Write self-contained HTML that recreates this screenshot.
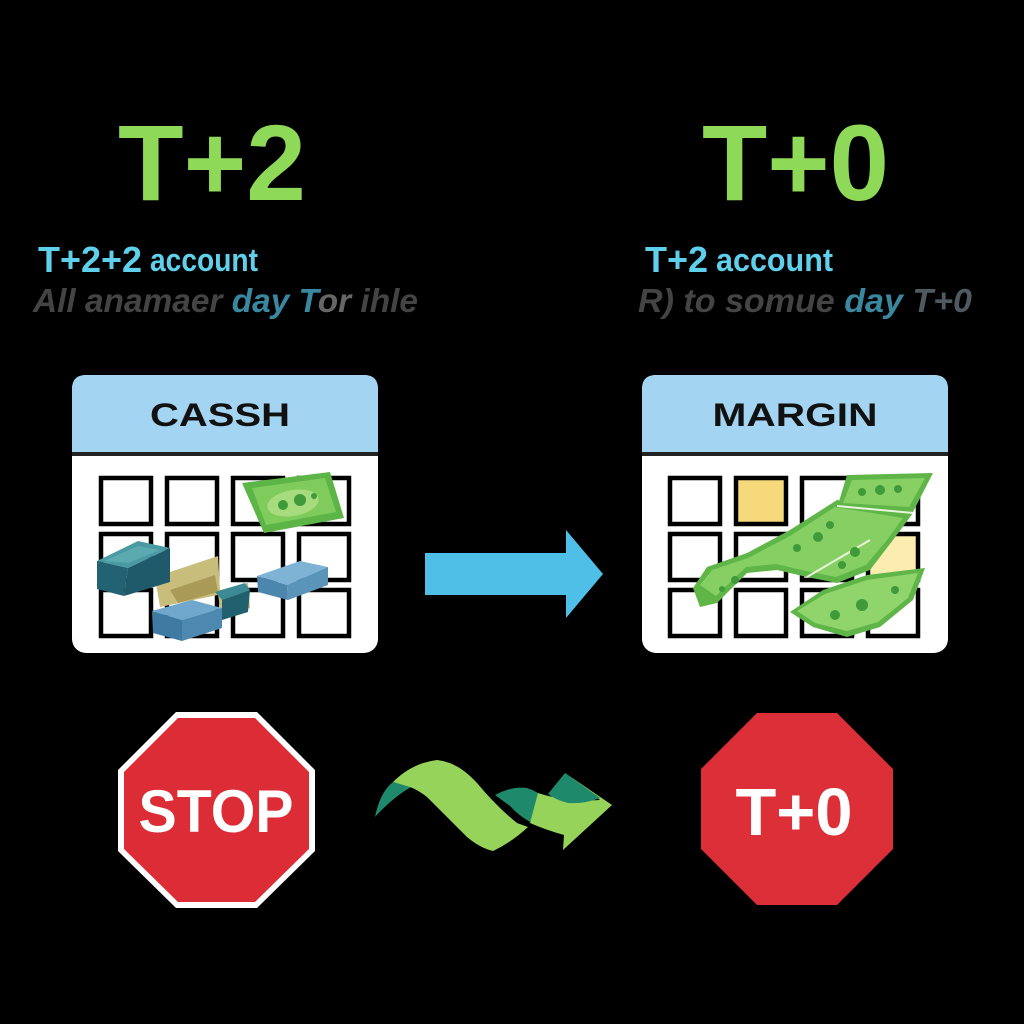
<!DOCTYPE html>
<html>
<head>
<meta charset="utf-8">
<style>
html,body{margin:0;padding:0;background:#000;}
body{width:1024px;height:1024px;overflow:hidden;}
svg{display:block;}
</style>
</head>
<body>
<svg width="1024" height="1024" viewBox="0 0 1024 1024" xmlns="http://www.w3.org/2000/svg">
<rect width="1024" height="1024" fill="#000"/>

<!-- Titles -->
<text x="118" y="200" font-family="Liberation Sans, sans-serif" font-weight="bold" font-size="108" fill="#8ed957" textLength="188" lengthAdjust="spacingAndGlyphs">T+2</text>
<text x="702" y="200" font-family="Liberation Sans, sans-serif" font-weight="bold" font-size="108" fill="#8ed957" textLength="187" lengthAdjust="spacingAndGlyphs">T+0</text>

<!-- Subtitles left -->
<text x="38" y="272" font-family="Liberation Sans, sans-serif" font-weight="bold" font-size="36" fill="#5fd0ec" textLength="104" lengthAdjust="spacingAndGlyphs">T+2+2</text>
<text x="150" y="271" font-family="Liberation Sans, sans-serif" font-weight="bold" font-size="32" fill="#5fd0ec" textLength="108" lengthAdjust="spacingAndGlyphs">account</text>
<text x="33" y="312" font-family="Liberation Sans, sans-serif" font-weight="bold" font-style="italic" font-size="33" fill="#444" textLength="385" lengthAdjust="spacingAndGlyphs">All anamaer <tspan fill="#3a88a0">day T</tspan><tspan fill="#666">or</tspan> ihle</text>

<!-- Subtitles right -->
<text x="645" y="272" font-family="Liberation Sans, sans-serif" font-weight="bold" font-size="36" fill="#5fd0ec" textLength="63" lengthAdjust="spacingAndGlyphs">T+2</text>
<text x="716" y="271" font-family="Liberation Sans, sans-serif" font-weight="bold" font-size="32" fill="#5fd0ec" textLength="117" lengthAdjust="spacingAndGlyphs">account</text>
<text x="638" y="312" font-family="Liberation Sans, sans-serif" font-weight="bold" font-style="italic" font-size="33" fill="#444" textLength="334" lengthAdjust="spacingAndGlyphs">R) to somue <tspan fill="#3a88a0">day</tspan> <tspan fill="#4f5a60">T+0</tspan></text>

<!-- Left calendar -->
<rect x="72" y="375" width="306" height="278" rx="14" fill="#fff"/>
<path d="M72 453 V389 Q72 375 86 375 H364 Q378 375 378 389 V453 Z" fill="#a3d5f3"/>
<rect x="72" y="452" width="306" height="4" fill="#222"/>
<text x="220" y="426" text-anchor="middle" font-family="Liberation Sans, sans-serif" font-weight="bold" font-size="32" fill="#111" textLength="140" lengthAdjust="spacingAndGlyphs">CASSH</text>
<g fill="#fff" stroke="#000" stroke-width="4.5">
<rect x="101" y="478" width="50" height="46"/><rect x="167" y="478" width="50" height="46"/><rect x="233" y="478" width="50" height="46"/><rect x="299" y="478" width="50" height="46"/>
<rect x="101" y="534" width="50" height="46"/><rect x="167" y="534" width="50" height="46"/><rect x="233" y="534" width="50" height="46"/><rect x="299" y="534" width="50" height="46"/>
<rect x="101" y="590" width="50" height="46"/><rect x="167" y="590" width="50" height="46"/><rect x="233" y="590" width="50" height="46"/><rect x="299" y="590" width="50" height="46"/>
</g>
<!-- left money: green bill -->
<polygon points="242,483 330,472 344,518 264,533" fill="#5db548"/>
<polygon points="252,488 325,478 336,512 266,525" fill="#7fcc5c"/>
<ellipse cx="293" cy="503" rx="26" ry="13" fill="#a6dc7e" transform="rotate(-10 293 503)"/>
<circle cx="283" cy="505" r="5" fill="#3f9a3a"/><circle cx="300" cy="500" r="6" fill="#3f9a3a"/><circle cx="314" cy="496" r="3" fill="#3f9a3a"/>
<!-- beige piece -->
<polygon points="155,577 218,556 220,590 248,583 250,608 222,617 218,595 160,607" fill="#c9bd7c"/>
<polygon points="170,590 215,575 218,592 178,603" fill="#a99a58"/>
<!-- teal stack left -->
<polygon points="97,561 138,541 170,548 128,568" fill="#4a9aa4"/>
<polygon points="104,561 138,546 160,550 128,563" fill="#5aaab0"/>
<polygon points="97,561 128,568 124,596 97,589" fill="#236273"/>
<polygon points="128,568 170,548 170,582 124,596" fill="#1e5a6a"/>
<!-- teal small middle -->
<polygon points="215,592 245,583 250,590 222,600" fill="#3c8a96"/>
<polygon points="222,600 250,590 248,612 222,620" fill="#20606f"/>
<!-- blue stack right -->
<polygon points="257,576 300,561 328,567 287,585" fill="#7fb3d6"/>
<polygon points="257,576 287,585 288,600 258,592" fill="#4d86ad"/>
<polygon points="287,585 328,567 328,585 288,600" fill="#5a94b8"/>
<!-- blue stack bottom -->
<polygon points="152,611 192,600 222,608 182,620" fill="#6fa8cc"/>
<polygon points="152,611 182,620 182,641 153,633" fill="#3f7aa3"/>
<polygon points="182,620 222,608 222,628 182,641" fill="#4d88b0"/>

<!-- Blue arrow -->
<polygon points="425,553 566,553 566,530 603,574 566,618 566,595 425,595" fill="#4fbfe8"/>

<!-- Right calendar -->
<rect x="642" y="375" width="306" height="278" rx="14" fill="#fff"/>
<path d="M642 453 V389 Q642 375 656 375 H934 Q948 375 948 389 V453 Z" fill="#a3d5f3"/>
<rect x="642" y="452" width="306" height="4" fill="#222"/>
<text x="795" y="426" text-anchor="middle" font-family="Liberation Sans, sans-serif" font-weight="bold" font-size="32" fill="#111" textLength="165" lengthAdjust="spacingAndGlyphs">MARGIN</text>
<g fill="#fff" stroke="#000" stroke-width="4.5">
<rect x="670" y="478" width="50" height="46"/><rect x="736" y="478" width="50" height="46" fill="#f5d97a"/><rect x="802" y="478" width="50" height="46"/><rect x="868" y="478" width="50" height="46"/>
<rect x="670" y="534" width="50" height="46"/><rect x="736" y="534" width="50" height="46"/><rect x="802" y="534" width="50" height="46"/><rect x="868" y="534" width="50" height="46" fill="#fbecb0"/>
<rect x="670" y="590" width="50" height="46"/><rect x="736" y="590" width="50" height="46"/><rect x="802" y="590" width="50" height="46"/><rect x="868" y="590" width="50" height="46"/>
</g>
<!-- right money -->
<polygon points="693,588 707,567 747,553 790,530 837,500 913,513 893,540 870,570 837,583 807,577 777,570 747,573 717,603 700,607" fill="#5fb548"/>
<polygon points="700,585 712,570 748,558 790,536 835,507 903,518 887,540 866,565 836,577 806,571 776,564 746,567 716,596" fill="#86cf62"/>
<polygon points="847,475 933,473 913,512 837,508" fill="#5fb548"/>
<polygon points="852,480 925,478 909,507 843,503" fill="#88d064"/>
<polygon points="790,612 823,590 867,575 925,568 913,600 880,627 847,637 813,627" fill="#5fb548"/>
<polygon points="797,611 825,594 867,580 918,573 908,598 878,622 847,631 815,623" fill="#90d46c"/>
<line x1="837" y1="506" x2="913" y2="513" stroke="#e8f5dc" stroke-width="2"/>
<line x1="807" y1="577" x2="870" y2="540" stroke="#e8f5dc" stroke-width="2"/>
<g fill="#3f9a3a">
<circle cx="862" cy="492" r="4"/><circle cx="880" cy="490" r="5"/><circle cx="898" cy="489" r="4"/>
<circle cx="818" cy="537" r="5"/><circle cx="830" cy="525" r="4"/><circle cx="797" cy="548" r="4"/>
<circle cx="855" cy="552" r="5"/><circle cx="842" cy="565" r="4"/>
<circle cx="735" cy="580" r="4"/><circle cx="722" cy="589" r="3"/>
<circle cx="835" cy="615" r="5"/><circle cx="862" cy="605" r="6"/><circle cx="895" cy="590" r="4"/>
</g>

<!-- Green swoosh -->
<path d="M375 817 Q380 792 393 782 L411 787 Q392 798 375 817 Z" fill="#1f8a6b"/>
<path d="M393 782 Q412 763 437 760 Q458 762 477 783 Q497 807 517 823 L528 827 Q512 842 493 851 Q480 848 467 837 Q447 817 427 797 Q418 790 410 787 Z" fill="#96d35a"/>
<path d="M495 795 Q512 786 527 788 Q533 790 538 793 L537 812 L530 822 Q518 815 510 806 Z" fill="#1f8a6b"/>
<path d="M530 823 L538 793 Q550 797 560 798 Q580 801 600 800 L565 773 L612 805 L563 850 L564 835 Q546 830 530 823 Z" fill="#96d35a"/>
<path d="M548 794 L565 773 L600 798 Q585 804 568 803 Q556 800 548 794 Z" fill="#1f8a6b"/>

<!-- STOP sign -->
<polygon points="176,712 257,712 315,770 315,851 257,908 176,908 118,851 118,770" fill="#fff"/>
<polygon points="178,718 255,718 309,772 309,849 255,902 178,902 124,849 124,772" fill="#dc2d36"/>
<text x="216" y="832" text-anchor="middle" font-family="Liberation Sans, sans-serif" font-weight="bold" font-size="60" fill="#fff" textLength="155" lengthAdjust="spacingAndGlyphs">STOP</text>

<!-- T+0 sign -->
<polygon points="757,713 837,713 893,769 893,849 837,905 757,905 701,849 701,769" fill="#dd2f38"/>
<text x="794" y="835" text-anchor="middle" font-family="Liberation Sans, sans-serif" font-weight="bold" font-size="67" fill="#fff" textLength="117" lengthAdjust="spacingAndGlyphs">T+0</text>
</svg>
</body>
</html>
